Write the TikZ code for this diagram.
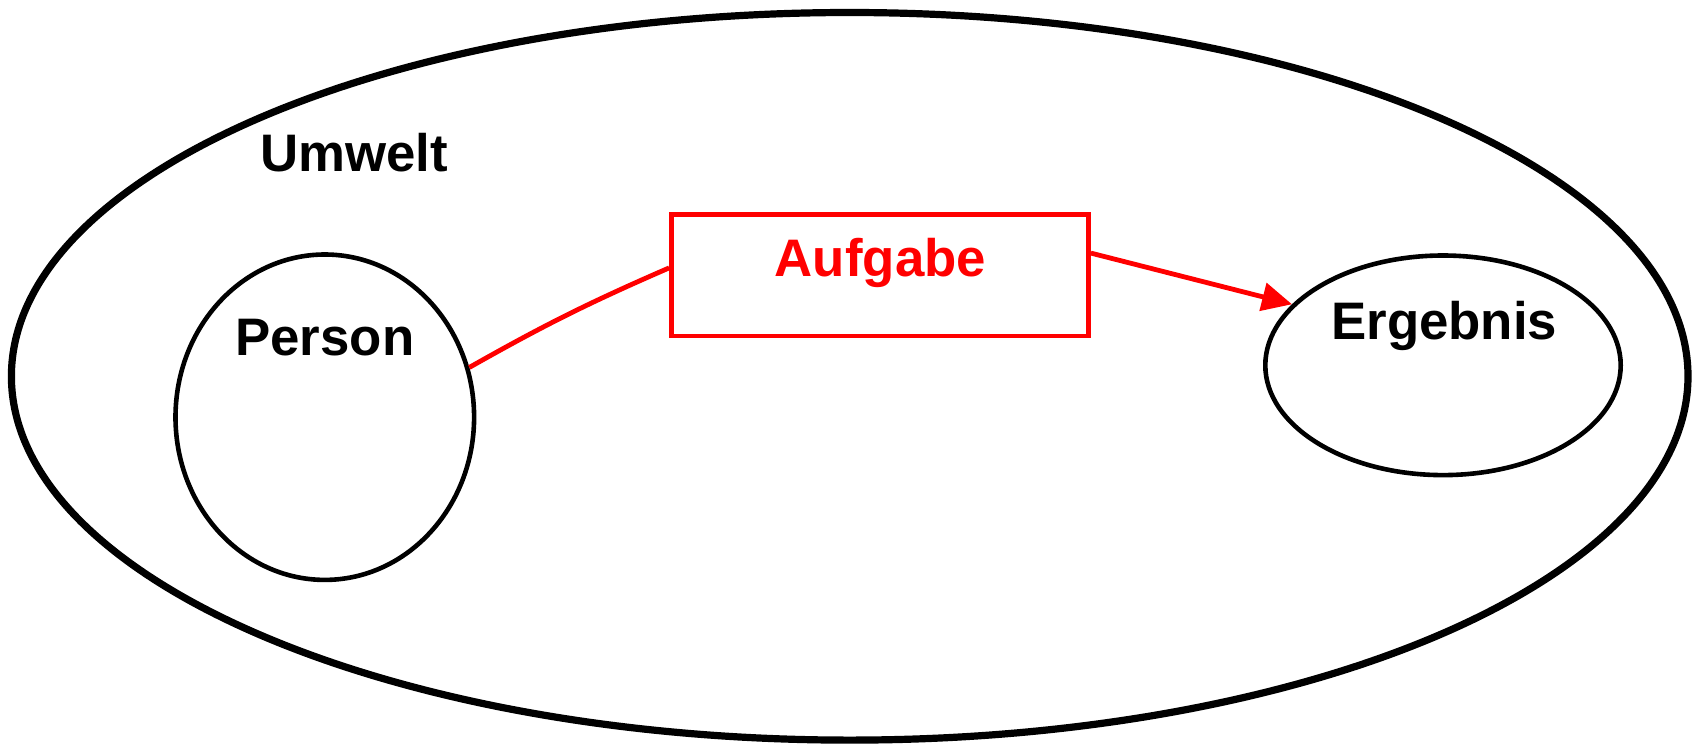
\documentclass[tikz,border=0pt]{standalone}
\usepackage{fontspec}
\setmainfont{Liberation Sans}
\usetikzlibrary{arrows.meta,shapes.geometric}
\definecolor{redline}{RGB}{255,0,0}
\tikzset{
  lbl/.style={font=\fontsize{26.4pt}{30pt}\selectfont\bfseries, anchor=base, inner sep=0pt},
  ell/.style={draw=black, ellipse, inner sep=0pt, line width=2.3pt},
  taskbox/.style={draw=redline, rectangle, inner sep=0pt, line width=2.35pt,
                  minimum width=208.5pt, minimum height=60.75pt},
  redconn/.style={draw=redline, line width=2.4pt}
}
\begin{document}
\begin{tikzpicture}[x=0.5pt,y=-0.5pt]
\useasboundingbox (0,0) rectangle (1696,744);
\fill[white] (0,0) rectangle (1696,744);
% outer environment
\node[ell, line width=3.6pt, minimum width=838.3pt, minimum height=363.8pt] (umwelt) at (849.7,376.3) {};
\node[lbl] (umwelttxt) at (354.2,171) {Umwelt};
% person
\node[ell, minimum width=149.3pt, minimum height=162.7pt] (person) at (324.8,417.2) {};
\node[lbl] (persontxt) at (324.8,355) {Person};
% result
\node[ell, minimum width=177.7pt, minimum height=109.8pt] (erg) at (1443,365.3) {};
\node[lbl] (ergtxt) at (1444.2,339.3) {Ergebnis};
% task
\node[taskbox] (box) at (880,275.25) {};
\node[lbl, text=redline] (boxtxt) at (880.4,276) {Aufgabe};
% connectors
\draw[redconn] (person.19) to[bend left=3] (box.178);
\draw[redconn, -{Triangle[length=15pt,width=14pt]}] (box.6.8) -- (erg.158.5);
\end{tikzpicture}
\end{document}
